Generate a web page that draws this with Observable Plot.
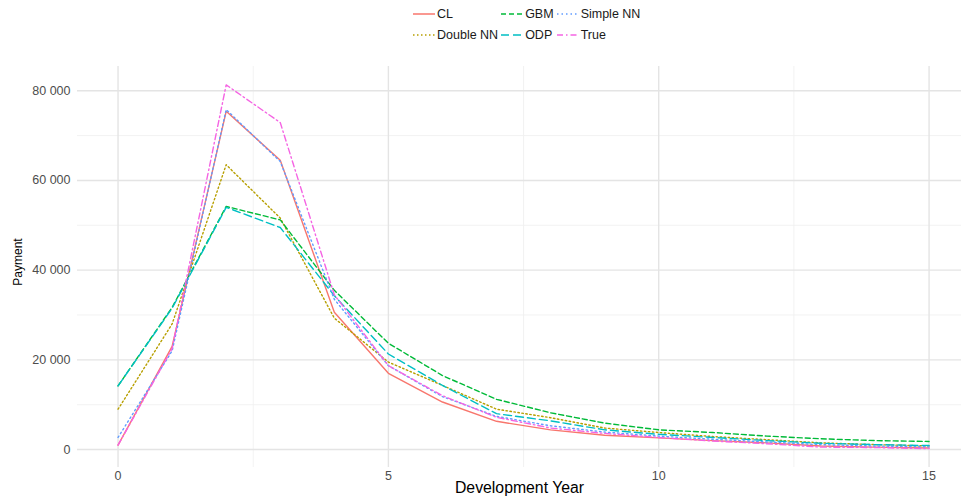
<!DOCTYPE html>
<html>
<head>
<meta charset="utf-8">
<script src="https://cdn.jsdelivr.net/npm/d3@7"></script>
<script src="https://cdn.jsdelivr.net/npm/@observablehq/plot@0.6"></script>
<style>
  body { margin: 0; background: #fff; font-family: "Liberation Sans", Arial, sans-serif; }
  #legend { height: 52px; position: relative; }
  #legend .keys {
    position: absolute; left: 413px; top: 3px;
    display: grid; grid-template-rows: repeat(2, 21px); grid-auto-flow: column;
    column-gap: 3px;
  }
  #legend .item { display: flex; align-items: center; font-size: 12.5px; color: #1a1a1a; white-space: nowrap; }
  #legend .item svg { margin-right: 2px; }
  #chart svg { display: block; }
</style>
</head>
<body>
<div id="legend"></div>
<div id="chart"></div>
<script>
// Development years on the x axis
const years = [0, 1, 2, 3, 4, 5, 6, 7, 8, 9, 10, 11, 12, 13, 14, 15];

// Incremental payments per development year, one array per method
const cl       = [1000, 23000, 75400, 64500, 30600, 17000, 10600, 6300, 4400, 3200, 2600, 2000, 1500, 800, 550, 350];
const doubleNN = [9000, 28000, 63500, 51600, 29300, 19500, 14300, 9000, 7100, 4800, 3800, 2900, 2200, 1500, 1100, 800];
const gbm      = [14200, 31700, 54200, 51200, 35500, 23700, 16500, 11200, 8200, 5900, 4400, 3800, 3000, 2400, 2000, 1800];
const odp      = [14200, 31500, 54000, 49500, 34300, 21300, 14300, 8000, 6400, 4400, 3400, 2700, 2000, 1400, 1100, 900];
const simpleNN = [2700, 22000, 75800, 64200, 33500, 18700, 11800, 7400, 5300, 3900, 3000, 2300, 1700, 1100, 800, 600];
const truth    = [1000, 22500, 81300, 72900, 34500, 18700, 12000, 7200, 4800, 3600, 2700, 1900, 1300, 550, 450, 200];

const seriesNames = ["CL", "Double NN", "GBM", "ODP", "Simple NN", "True"];
const seriesValues = [cl, doubleNN, gbm, odp, simpleNN, truth];

// Axis ticks
const yTicks = [0, 20000, 40000, 60000, 80000];
const yMinor = [10000, 30000, 50000, 70000];
const xTicks = [0, 5, 10, 15];
const xMinor = [2.5, 7.5, 12.5];

// Styling per series
const colors = ["#F8766D", "#B79F00", "#00BA38", "#00BFC4", "#619CFF", "#F564E3"];
const dashes = ["none", "1.5,2.5", "5,3", "8,4", "1.5,3", "6,3,1.5,3"];

const rows = seriesNames.flatMap((s, i) =>
  years.map((yr, j) => ({ series: s, year: yr, payment: seriesValues[i][j] }))
);

const fmt = d3.formatLocale({ decimal: ".", thousands: " ", grouping: [3], currency: ["", ""] }).format(",d");

// Legend above the chart
const keys = document.createElement("div");
keys.className = "keys";
seriesNames.forEach((s, i) => {
  const item = document.createElement("div");
  item.className = "item";
  item.innerHTML =
    `<svg width="22" height="10"><line x1="0" x2="22" y1="5" y2="5" stroke="${colors[i]}" stroke-width="1.5"` +
    (dashes[i] === "none" ? "" : ` stroke-dasharray="${dashes[i]}"`) + `/></svg><span>${s}</span>`;
  keys.appendChild(item);
});
document.getElementById("legend").appendChild(keys);

const grid = (axis, ticks, stroke, width) =>
  (axis === "y" ? Plot.gridY : Plot.gridX)(ticks, { stroke, strokeOpacity: 1, strokeWidth: width });

const chart = Plot.plot({
  width: 961,
  height: 450,
  marginLeft: 77,
  marginRight: 0,
  marginTop: 14,
  marginBottom: 35,
  x: { domain: [-0.75, 15.6] },
  y: { domain: [-4000, 85400] },
  style: { fontFamily: "'Liberation Sans', Arial, sans-serif", background: "#fff", overflow: "visible" },
  marks: [
    grid("y", yMinor, "#f0f0f0", 0.9),
    grid("x", xMinor, "#f0f0f0", 0.9),
    grid("y", yTicks, "#e4e4e4", 1.4),
    grid("x", xTicks, "#e4e4e4", 1.4),
    Plot.axisY(yTicks, { tickSize: 0, tickPadding: 7, tickFormat: fmt, label: null, fontSize: 12.5, color: "#4d4d4d" }),
    Plot.axisX(xTicks, { tickSize: 0, tickPadding: 4, label: null, fontSize: 12.5, color: "#4d4d4d" }),
    ...seriesNames.map((s, i) =>
      Plot.line(rows.filter(d => d.series === s), {
        x: "year",
        y: "payment",
        stroke: colors[i],
        strokeWidth: 1.4,
        strokeDasharray: dashes[i] === "none" ? undefined : dashes[i]
      })
    ),
    Plot.text(["Payment"], {
      text: d => d, frameAnchor: "left", textAnchor: "middle", rotate: -90,
      dx: -59, dy: -5, fontSize: 12, fill: "#000"
    }),
    Plot.text(["Development Year"], { text: d => d, frameAnchor: "bottom", dy: 25, fontSize: 15.8, fill: "#000" })
  ]
});
document.getElementById("chart").appendChild(chart);
</script>
</body>
</html>
